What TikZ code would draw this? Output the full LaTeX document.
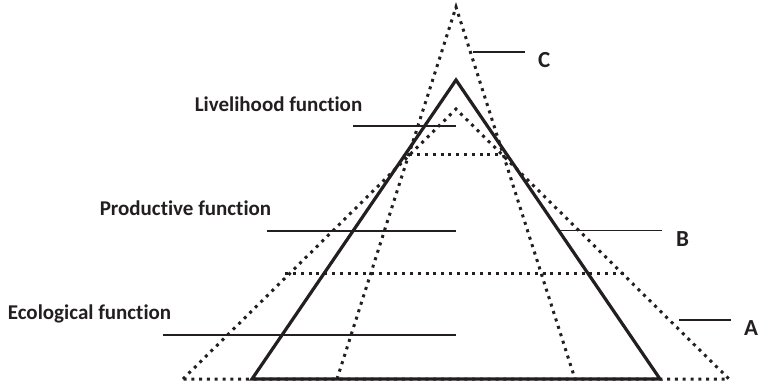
\documentclass[tikz,border=0pt]{standalone}
\usepackage{fontspec}
\setmainfont{Carlito}[RawFeature=-liga]
\definecolor{ink}{HTML}{231F20}
\begin{document}
\begin{tikzpicture}[x=1pt,y=-1pt,
  dotline/.style={draw=ink,line width=3pt,dash pattern=on 3pt off 4.8pt},
  solidline/.style={draw=ink,line width=3.2pt,line join=miter},
  leader/.style={draw=ink,line width=1.3pt},
  phrase/.style={font=\bfseries\fontsize{21}{24}\selectfont,text=ink,inner sep=0pt,anchor=base},
  letter/.style={font=\bfseries\fontsize{23}{26}\selectfont,text=ink,inner sep=0pt,anchor=base west}]
\useasboundingbox (0,0) rectangle (759,386);
% triangle A (dotted, wide)
\coordinate (Aa) at (456,109);
\coordinate (AL) at (183,379);
\coordinate (AR) at (729,379);
% triangle C (dotted, tall)
\coordinate (Ca) at (456,7);
\coordinate (CL) at (337,379);
\coordinate (CR) at (575,379);
% triangle B (solid)
\coordinate (Ba) at (456,80);
\coordinate (BL) at (252,379);
\coordinate (BR) at (660,379);
% horizontal dotted levels
\coordinate (h1l) at (intersection of Aa--AL and 0,155--10,155);
\coordinate (h1r) at (intersection of Aa--AR and 0,155--10,155);
\coordinate (h2l) at (intersection of Aa--AL and 0,274--10,274);
\coordinate (h2r) at (intersection of Aa--AR and 0,274--10,274);
\draw[dotline] (AL) -- (Aa) -- (AR) -- cycle;
\draw[dotline] (CL) -- (Ca) -- (CR);
\draw[dotline] (h1l) -- (h1r);
\draw[dotline] ([xshift=-4pt]h2l) -- ([xshift=3pt]h2r);
\draw[solidline] (BL) -- (Ba) -- (BR) -- cycle;
% leaders
\coordinate (lvS) at (353,126); \coordinate (lvE) at (456,126);
\coordinate (prS) at (267,231); \coordinate (prE) at (456,231);
\coordinate (ecS) at (163,335); \coordinate (ecE) at (456,335);
\coordinate (cS) at (473,52);   \coordinate (cE) at (525,52);
\coordinate (bS) at (560,230.5);\coordinate (bE) at (662,230.5);
\coordinate (aS) at (679,320);  \coordinate (aE) at (731,320);
\draw[leader] (lvS) -- (lvE);
\draw[leader] (prS) -- (prE);
\draw[leader] (ecS) -- (ecE);
\draw[leader] (cS) -- (cE);
\draw[leader] (bS) -- (bE);
\draw[leader] (aS) -- (aE);
% labels
\node[phrase] (lv) at (278.5,111) {Livelihood function};
\node[phrase] (pr) at (185.5,215) {Productive function};
\node[phrase] (ec) at (89.5,319) {Ecological function};
\node[letter] (lc) at (538,67) {C};
\node[letter] (lb) at (676,246) {B};
\node[letter] (la) at (744,335) {A};
\end{tikzpicture}
\end{document}
